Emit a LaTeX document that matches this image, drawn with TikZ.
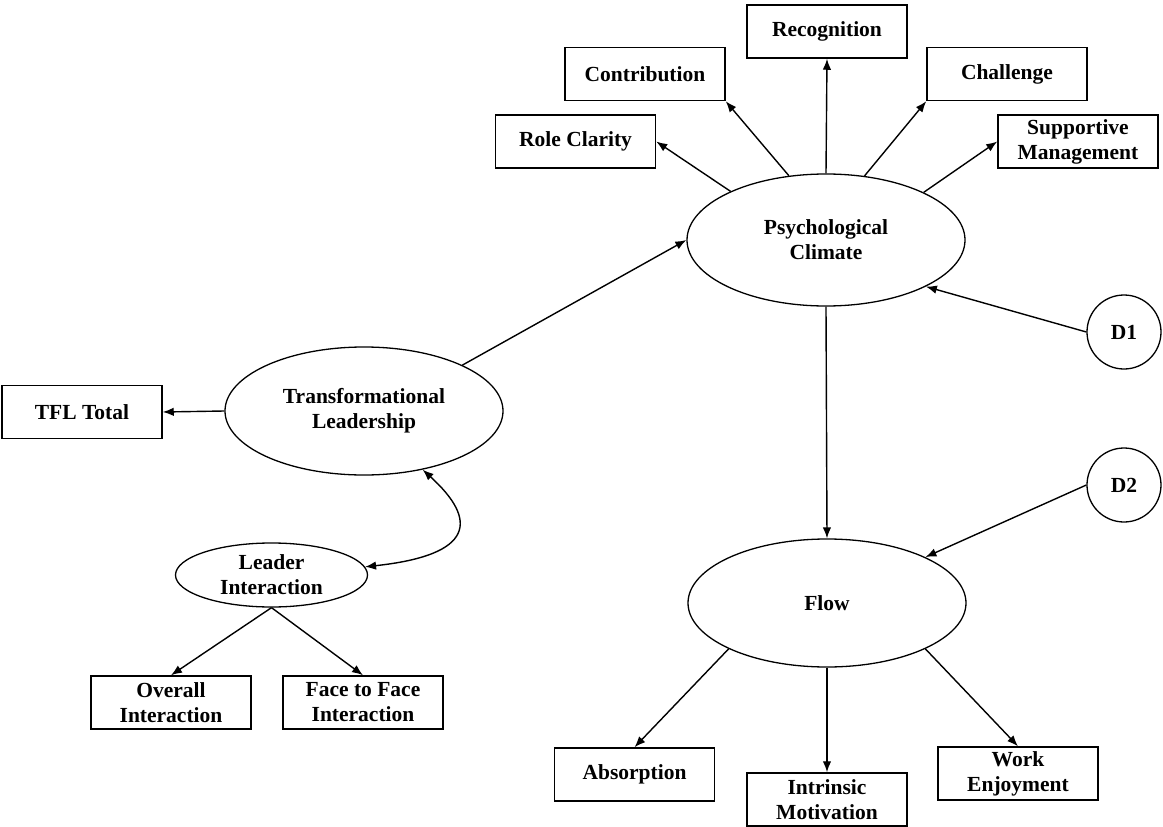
\documentclass[tikz,border=0pt]{standalone}
\usepackage{fontspec}
\setmainfont{Liberation Serif}
\usetikzlibrary{shapes.geometric,arrows.meta}
\begin{document}
\begin{tikzpicture}[x=1pt,y=-1pt,
  every node/.style={font=\fontsize{21.5}{25}\selectfont\bfseries, align=center, inner sep=0pt},
  box/.style={draw, line width=1.5pt, minimum width=160pt, minimum height=53pt},
  lat/.style={draw, ellipse, line width=1.3pt, minimum width=278pt, minimum height=128pt},
  dist/.style={draw, circle, line width=1.3pt, minimum size=74pt},
  arr/.style={line width=1.4pt, -{Latex[length=11pt,width=8.5pt]}},
  darr/.style={line width=1.4pt, {Latex[length=11pt,width=8.5pt]}-{Latex[length=11pt,width=8.5pt]}},
]
\fill[white] (0,0) rectangle (1163,827);
\useasboundingbox (0,0) rectangle (1163,827);

\node[box] (rec) at (827,31.5) {Recognition};
\node[box] (con) at (645,74) {Contribution};
\node[box] (cha) at (1007,74) {Challenge};
\node[box] (rc) at (575.5,141.5) {Role Clarity};
\node[box] (sm) at (1078,141.5) {Supportive\\Management};
\node[lat, minimum height=132pt] (pc) at (826,240) {Psychological\\Climate};
\node[dist] (d1) at (1124,332) {D1};
\node[dist] (d2) at (1124,485) {D2};
\node[lat] (tl) at (364,411) {Transformational\\Leadership};
\node[box] (tfl) at (82,412) {TFL Total};
\node[lat, minimum width=192pt, minimum height=64pt] (li) at (271.5,575) {Leader\\Interaction};
\node[box] (ov) at (171,702.5) {Overall\\Interaction};
\node[box] (ff) at (363,702.5) {Face to Face\\Interaction};
\node[lat] (fl) at (827,603) {Flow};
\node[box] (ab) at (634.5,774.5) {Absorption};
\node[box] (im) at (827,799.5) {Intrinsic\\Motivation};
\node[box] (we) at (1018,773.5) {Work\\Enjoyment};

\draw[arr] (pc.153) -- (rc.east);
\draw[arr] (pc.120) -- (con.south east);
\draw[arr] (pc.north) -- (rec.south);
\draw[arr] (pc.59) -- (cha.south west);
\draw[arr] (pc.26) -- (sm.west);
\draw[arr] (tl.25) -- (pc.west);
\draw[arr] (d1.west) -- (pc.-25);
\draw[arr] (pc.south) -- (fl.north);
\draw[arr] (d2.west) -- (fl.25);
\draw[arr] (tl.west) -- (tfl.east);
\draw[darr] (tl.-45) .. controls (478,520) and (475,555) .. (li.5);
\draw[arr] (li.south) -- (ov.north);
\draw[arr] (li.south) -- (ff.north);
\draw[arr] (fl.205) -- (ab.north);
\draw[arr] (fl.south) -- (im.north);
\draw[arr] (fl.-25) -- (we.north);
\end{tikzpicture}
\end{document}
